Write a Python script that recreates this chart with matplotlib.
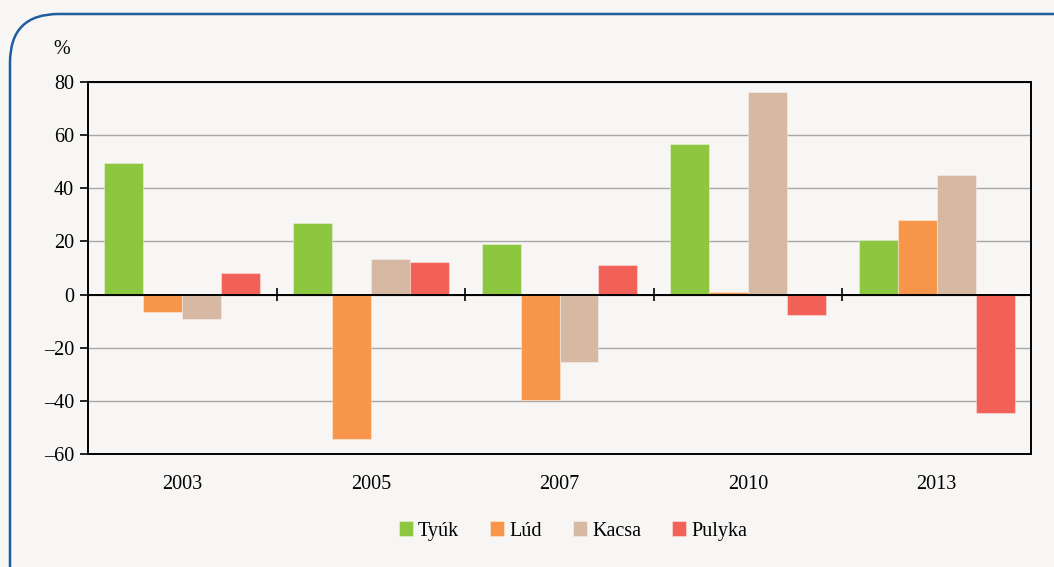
import matplotlib
matplotlib.use("Agg")
import matplotlib.pyplot as plt
import numpy as np
from matplotlib.patches import FancyBboxPatch

years = ["2003", "2005", "2007", "2010", "2013"]
series_names = ["Tyúk", "Lúd", "Kacsa", "Pulyka"]
tyuk = [49.4, 27.1, 19.0, 56.7, 20.4]
lud = [-6.7, -54.5, -39.5, 1.1, 28.0]
kacsa = [-9.3, 13.4, -25.4, 76.1, 44.9]
pulyka = [8.0, 12.3, 11.0, -7.7, -44.4]
colors = ["#8dc63f", "#f7964a", "#d6b8a3", "#f26157"]
yticks = [80, 60, 40, 20, 0, -20, -40, -60]

plt.rcParams['font.family'] = ['Liberation Serif', 'DejaVu Serif']
bg = "#f7f6f4"
fig = plt.figure(figsize=(10.54, 5.67), dpi=100, facecolor=bg)
FS = 14.5

# rounded border
W, H = 1054, 567
border = FancyBboxPatch((10 / W, -0.2), 1.2, (567 - 14) / H + 0.2,
                        boxstyle="round,pad=0,rounding_size=0.046",
                        transform=fig.transFigure, facecolor="none",
                        edgecolor="#1f5d9e", linewidth=1.8, mutation_aspect=W / H)
fig.patches.append(border)

ax = fig.add_axes([88 / W, 1 - 454 / H, (1031 - 88) / W, (454 - 82) / H])
ax.set_facecolor(bg)

x = np.arange(len(years))
bw = 0.2065
data = [tyuk, lud, kacsa, pulyka]
for i, (vals, c, name) in enumerate(zip(data, colors, series_names)):
    ax.bar(x + (i - 1.5) * bw, vals, width=bw, color=c, label=name,
           edgecolor=(1, 1, 1, 0.35), linewidth=0.8, zorder=3)

ax.set_xlim(-0.5, len(years) - 0.5)
ax.set_ylim(-60, 80)
ax.set_yticks(yticks)
ax.set_yticklabels([str(v).replace("-", "\u2013") for v in yticks], fontsize=FS)
ax.yaxis.grid(True, color="#a8a8a8", linewidth=1.0, zorder=0)
ax.set_axisbelow(True)
ax.axhline(0, color="black", linewidth=1.4, zorder=4)

# category boundary ticks on the zero line
bounds = x[:-1] + 0.5
ax.vlines(bounds, -2.3, 2.3, color="black", linewidth=1.2, zorder=5)

ax.set_xticks(x)
ax.set_xticklabels(years, fontsize=FS)
ax.tick_params(axis='x', length=0, pad=15)
ax.tick_params(axis='y', direction='out', length=6, width=1.2, pad=4)
for s in ax.spines.values():
    s.set_linewidth(1.4)
    s.set_color("black")

fig.text(62 / W, 1 - 50 / H, "%", fontsize=FS, ha="center", va="center")

handles, labels = ax.get_legend_handles_labels()
leg = fig.legend(handles, labels, loc="center", bbox_to_anchor=(573 / W, 1 - 531 / H),
                 ncol=4, frameon=False, fontsize=FS, handlelength=0.7, handleheight=0.7,
                 handletextpad=0.25, columnspacing=1.55)

fig.savefig("out.png", dpi=100, facecolor=bg)
